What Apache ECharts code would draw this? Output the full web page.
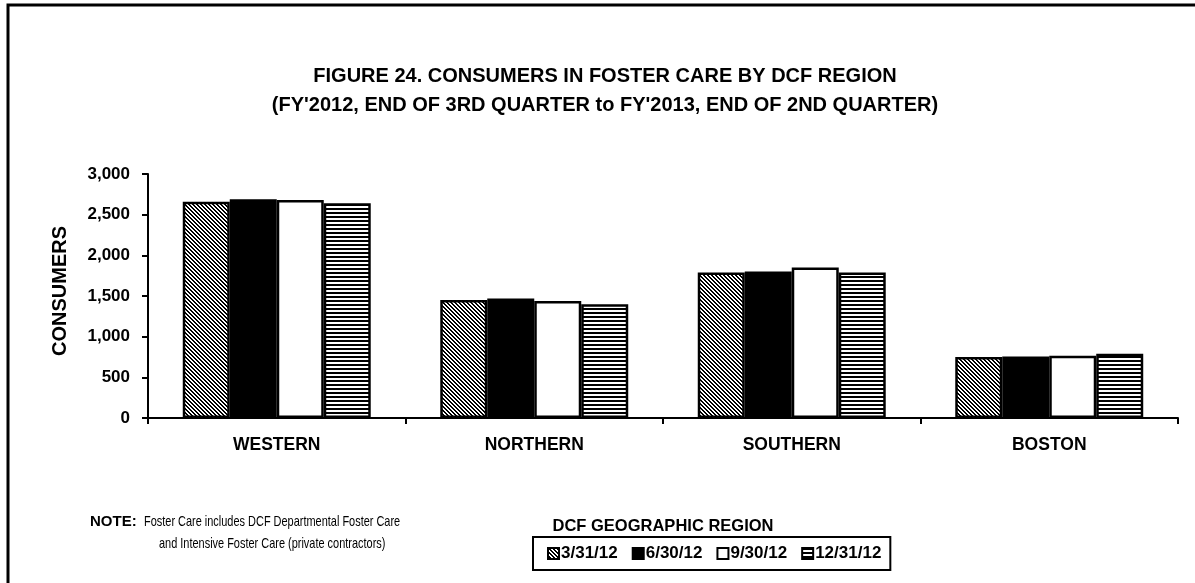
<!DOCTYPE html>
<html><head><meta charset="utf-8">
<script src="https://cdn.jsdelivr.net/npm/echarts@6/dist/echarts.min.js"></script>
<style>html,body{margin:0;padding:0;background:#fff}#c{width:1195px;height:583px}</style>
</head><body><div id="c"></div>
<script>
const categories = ['WESTERN', 'NORTHERN', 'SOUTHERN', 'BOSTON'];
const seriesNames = ['3/31/12', '6/30/12', '9/30/12', '12/31/12'];
const q2012_3 = [2660, 1450, 1790, 750];
const q2012_4 = [2690, 1470, 1800, 755];
const q2013_1 = [2680, 1440, 1850, 765];
const q2013_2 = [2640, 1400, 1790, 790];
const yMin = 0, yMax = 3000, yStep = 500;

function makePattern(type) {
  const c = document.createElement('canvas');
  c.width = 8; c.height = 8;
  const ctx = c.getContext('2d');
  const img = ctx.createImageData(8, 8);
  for (let y = 0; y < 8; y++) for (let x = 0; x < 8; x++) {
    let black;
    if (type === 'diag') black = (((x - y) % 4) + 4) % 4 < 2;
    else black = (y % 4) < 2;
    const i = (y * 8 + x) * 4;
    const v = black ? 0 : 255;
    img.data[i] = v; img.data[i + 1] = v; img.data[i + 2] = v; img.data[i + 3] = 255;
  }
  ctx.putImageData(img, 0, 0);
  return { image: c, repeat: 'repeat' };
}
const fills = [makePattern('diag'), '#000000', '#ffffff', makePattern('horiz')];
const dataSets = [q2012_3, q2012_4, q2013_1, q2013_2];
const FONT = 'Liberation Sans, Arial, sans-serif';

const chart = echarts.init(document.getElementById('c'), null, { renderer: 'canvas' });
chart.setOption({
  backgroundColor: '#ffffff',
  animation: false,
  title: {
    text: "FIGURE 24. CONSUMERS IN FOSTER CARE BY DCF REGION\n(FY'2012, END OF 3RD QUARTER to FY'2013, END OF 2ND QUARTER)",
    left: 600, top: 57, textAlign: 'center',
    textStyle: { fontFamily: FONT, fontWeight: 'bold', fontSize: 20, color: '#000', lineHeight: 29 }
  },
  grid: { left: 148, right: 17, top: 174, bottom: 165, containLabel: false },
  legend: {
    left: 533, top: 537,
    data: seriesNames,
    itemWidth: 11, itemHeight: 11, itemGap: 14,
    icon: 'rect',
    padding: [8, 9, 8, 14],
    borderColor: '#000', borderWidth: 2,
    textStyle: { fontFamily: FONT, fontWeight: 'bold', fontSize: 17, color: '#000', padding: [0, 0, 0, -3] }
  },
  xAxis: {
    type: 'category', data: categories,
    name: 'DCF GEOGRAPHIC REGION', nameLocation: 'middle', nameGap: 100,
    nameTextStyle: { fontFamily: FONT, fontWeight: 'bold', fontSize: 16.5, color: '#000' },
    axisLine: { show: true, lineStyle: { color: '#000', width: 2 } },
    axisTick: { show: true, length: 6, alignWithLabel: false, lineStyle: { color: '#000', width: 2 } },
    axisLabel: { fontFamily: FONT, fontWeight: 'bold', fontSize: 17.5, color: '#000', margin: 18 },
    splitLine: { show: false }
  },
  yAxis: {
    type: 'value', min: yMin, max: yMax, interval: yStep,
    axisLine: { show: true, lineStyle: { color: '#000', width: 2 } },
    axisTick: { show: true, length: 6, inside: false, lineStyle: { color: '#000', width: 2 } },
    axisLabel: { fontFamily: FONT, fontWeight: 'bold', fontSize: 17, color: '#000', margin: 18,
      formatter: v => v.toLocaleString('en-US') },
    splitLine: { show: false }
  },
  series: seriesNames.map((n, i) => ({
    name: n, type: 'bar', data: dataSets[i],
    barGap: '0%', barCategoryGap: '27%',
    itemStyle: { color: fills[i], borderColor: '#000', borderWidth: 2.5 },
    emphasis: { disabled: true }
  })),
  graphic: [
    { type: 'rect', shape: { x: 8, y: 5, width: 1300, height: 700 },
      style: { fill: 'none', stroke: '#000', lineWidth: 3 }, silent: true },
    { type: 'text', x: 60, y: 291, rotation: Math.PI / 2,
      style: { text: 'CONSUMERS', fontFamily: FONT, fontWeight: 'bold', fontSize: 20, fill: '#000',
        align: 'center', verticalAlign: 'middle' } },
    { type: 'text', x: 90, y: 514, scaleX: 1.0,
      style: { text: 'NOTE:', fontFamily: FONT, fontWeight: 'bold', fontSize: 15, fill: '#000' } },
    { type: 'text', x: 144, y: 514, scaleX: 0.73,
      style: { text: 'Foster Care includes DCF Departmental Foster Care', fontFamily: FONT, fontSize: 15, fill: '#000' } },
    { type: 'text', x: 159, y: 536, scaleX: 0.73,
      style: { text: 'and Intensive Foster Care (private contractors)', fontFamily: FONT, fontSize: 15, fill: '#000' } }
  ]
});
</script>
</body></html>
